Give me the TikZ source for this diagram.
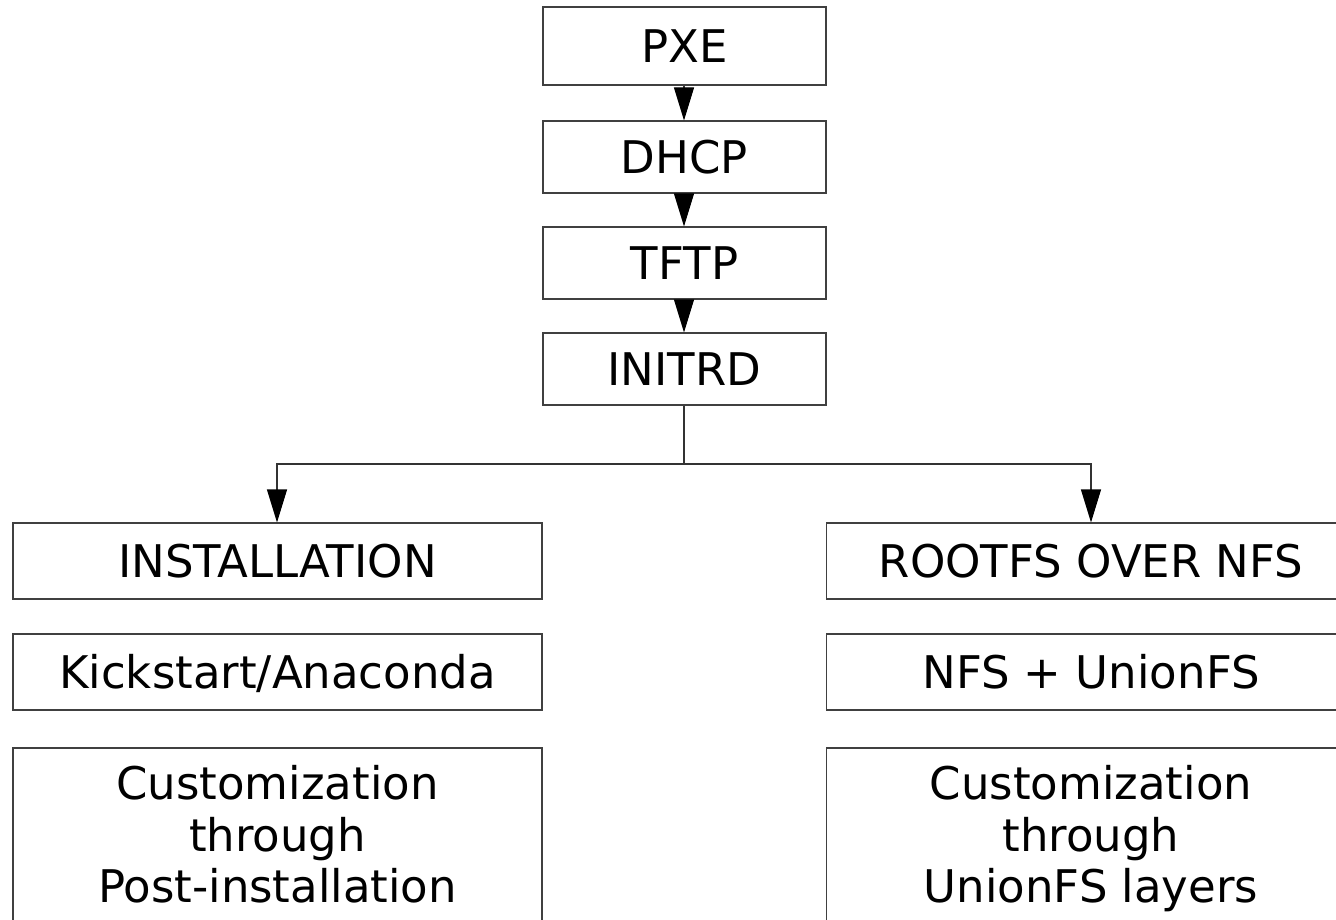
\documentclass[tikz,border=0pt]{standalone}
\usepackage{fontspec}
\setmainfont{DejaVu Sans}
\usetikzlibrary{arrows.meta}

\tikzset{
  box/.style={draw=black!75, line width=1.1pt, rectangle, inner sep=0pt,
    font=\fontsize{45}{51.5}\selectfont, text height=33pt, text depth=0pt},
  stagebox/.style={box, minimum width=283pt, minimum height=72pt},
  branchbox/.style={box, minimum width=529pt, minimum height=76pt},
  tallbox/.style={draw=black!75, line width=1.1pt, rectangle, inner sep=0pt,
    font=\fontsize{45}{51.5}\selectfont, align=center,
    minimum width=529pt, minimum height=186pt},
  flow/.style={draw=black!80, line width=1.1pt,
    -{Triangle[length=33pt, width=20pt, color=black]}},
  link/.style={draw=black!80, line width=1.1pt}
}

\begin{document}
\begin{tikzpicture}[x=1pt, y=-1pt]
  \useasboundingbox (0,0) rectangle (1336,920);
  \clip (0,0) rectangle (1336,920);

  % boot chain
  \node[stagebox, minimum height=78pt] (pxe) at (684.5,46) {PXE};
  \node[stagebox] (dhcp)   at (684.5,157) {DHCP};
  \node[stagebox] (tftp)   at (684.5,263) {TFTP};
  \node[stagebox] (initrd) at (684.5,369) {INITRD};

  \draw[flow] (pxe.south -| 684,0) -- (dhcp.north -| 684,0);
  \draw[flow] (dhcp.south -| 684,0) -- (tftp.north -| 684,0);
  \draw[flow] (tftp.south -| 684,0) -- (initrd.north -| 684,0);

  % installation branch
  \node[branchbox] (inst) at (277.5,561) {INSTALLATION};
  \node[branchbox] (kick) at (277.5,672) {Kickstart/Anaconda};
  \node[tallbox] (custinst) at (277.5,841)
    {\strut Customization\\\strut through\\\strut Post-installation};

  % network root branch
  \node[branchbox] (rootfs) at (1091,561) {ROOTFS OVER NFS};
  \node[branchbox] (nfs) at (1091,672) {NFS + UnionFS};
  \node[tallbox] (custnfs) at (1091,841)
    {\strut Customization\\\strut through\\\strut UnionFS layers};

  % fork below INITRD
  \coordinate (fork) at (684,464);
  \draw[link] (initrd.south -| fork) -- (fork);
  \draw[flow] (fork) -| (inst.north -| 277,0);
  \draw[flow] (fork) -| (rootfs.north -| 1091,0);
\end{tikzpicture}
\end{document}
